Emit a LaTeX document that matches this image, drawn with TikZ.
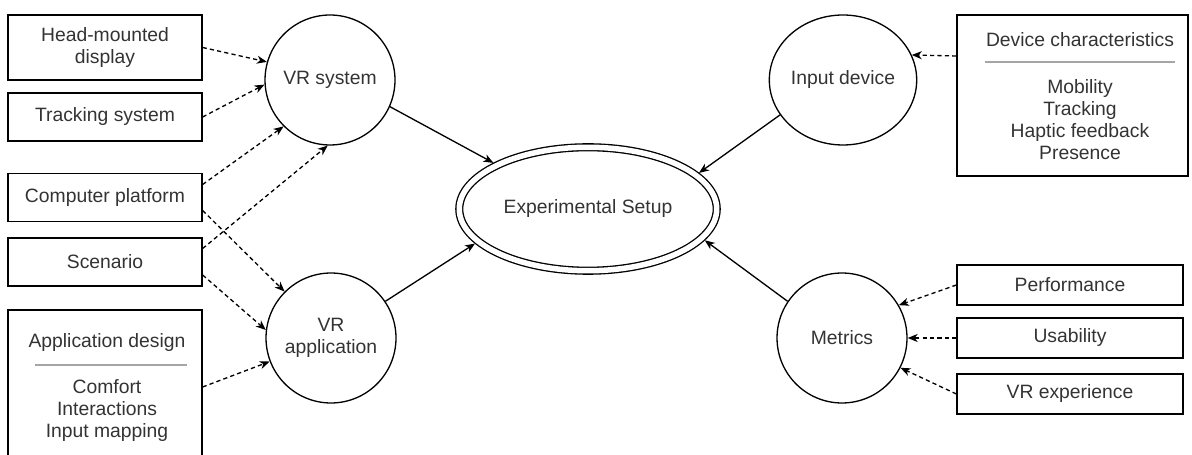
\documentclass[tikz,border=0pt]{standalone}
\usepackage{fontspec}
\setmainfont{Liberation Sans}
\usetikzlibrary{arrows.meta}
\usetikzlibrary{shapes.geometric}
\usetikzlibrary{positioning}

\definecolor{txtgray}{RGB}{51,51,51}
\definecolor{sepgray}{RGB}{165,165,165}

\begin{document}
\begin{tikzpicture}[x=0.02cm,y=-0.02cm,
  line width=0.75pt,
  every node/.style={font=\fontsize{11}{12.5}\selectfont,text=txtgray,align=center},
  box/.style={draw,rectangle,inner sep=0pt,minimum width=3.88cm,minimum height=0.96cm},
  mbox/.style={draw,rectangle,inner sep=0pt,minimum width=4.52cm,minimum height=0.8cm},
  comp/.style={draw,circle,inner sep=0pt,minimum size=2.6cm},
  dep/.style={draw,dash pattern=on 2.4pt off 1.8pt,-{Stealth[length=0.2cm,width=0.16cm,inset=0.06cm]}},
  flow/.style={draw,-{Stealth[length=0.2cm,width=0.16cm,inset=0.06cm]}},
  sepline/.style={draw=sepgray,line width=0.6pt}]
\useasboundingbox (0,0) rectangle (1192,455);

% left: VR system and VR application inputs
\node[box,minimum height=1.3cm] (hmd) at (105,47.5) {Head-mounted\\display};
\node[box] (track) at (105,117) {Tracking system};
\node[box] (cplat) at (105,197.5) {Computer platform};
\node[box] (scen) at (105,262) {Scenario};
\node[box,minimum height=3.08cm] (appdes) at (105,387) {};
\node (appdestitle) at (107,343) {Application design};
\draw[sepline] (35,365) -- (187,365);
\node (appdesitems) at (107,410.5) {Comfort\\Interactions\\Input mapping};

% components
\node[comp] (vrsys) at (330,80) {VR system};
\node[comp] (vrapp) at (331,338) {VR\\application};
\node[draw,ellipse,inner sep=0pt,minimum width=2.76cm,minimum height=2.6cm] (inputdev) at (843,80) {Input device};
\node[comp] (metrics) at (842,338) {Metrics};
\node[draw,ellipse,double,double distance=0.11cm,inner sep=0pt,outer sep=0.08cm,
  minimum width=5.15cm,minimum height=2.47cm] (es) at (588,209) {Experimental Setup};

% right: device characteristics and metrics
\node[draw,rectangle,inner sep=0pt,minimum width=4.62cm,minimum height=3.22cm] (devchar) at (1072.5,95.5) {};
\node (devchartitle) at (1080,40) {Device characteristics};
\draw[sepline] (985,62) -- (1175,62);
\node (devcharitems) at (1080,119.5) {Mobility\\Tracking\\Haptic feedback\\Presence};
\node[mbox] (perf) at (1070,285) {Performance};
\node[mbox] (usab) at (1070,338) {Usability};
\node[mbox] (vrexp) at (1070,394) {VR experience};

% dashed inputs
\draw[dep] (hmd.east) -- (vrsys.164);
\draw[dep] (track.east) -- (vrsys.184);
\draw[dep] ([yshift=0.26cm]cplat.east) -- (vrsys.225);
\draw[dep] ([yshift=-0.26cm]cplat.east) -- (vrapp.135);
\draw[dep] ([yshift=0.27cm]scen.east) -- (vrsys.268);
\draw[dep] ([yshift=-0.26cm]scen.east) -- (vrapp.173);
\draw[dep] (appdes.east) -- (vrapp.201);
\draw[dep] ([yshift=0.79cm]devchar.west) -- (inputdev.20);
\draw[dep] (perf.west) -- (metrics.30);
\draw[dep] (usab.west) -- (metrics.east);
\draw[dep] (vrexp.west) -- (metrics.-27);

% solid links into the setup
\draw[flow] (vrsys.-24) -- (es.154);
\draw[flow] (vrapp.34) -- (es.197);
\draw[flow] (inputdev.209) -- (es.18);
\draw[flow] (metrics.146) -- (es.-15);

\end{tikzpicture}
\end{document}
